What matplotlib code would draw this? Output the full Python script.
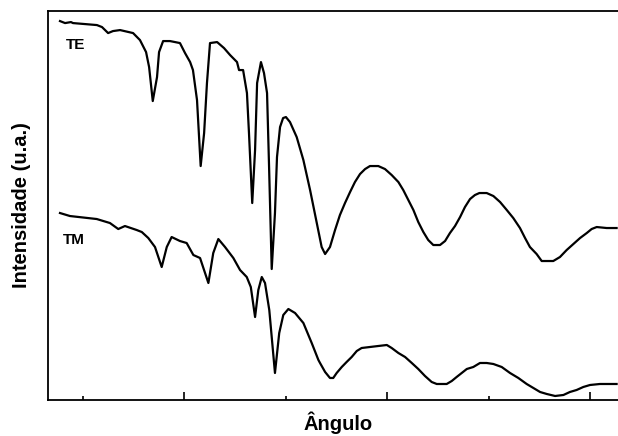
import matplotlib
matplotlib.use('Agg')
import matplotlib.pyplot as plt
from matplotlib.ticker import MultipleLocator, NullFormatter

# curva TE (ângulo, intensidade em u.a.)
te_ang = [33.89, 34.14, 34.43, 34.53, 35.71, 35.96, 36.26, 36.50, 36.85, 37.49,
          37.83, 38.13, 38.28, 38.46, 38.67, 38.77, 38.97, 39.31, 39.80, 40.05,
          40.30, 40.44, 40.64, 40.82, 40.99, 41.13, 41.28, 41.63, 41.97, 42.27,
          42.61, 42.71, 42.91, 43.10, 43.20, 43.36, 43.50, 43.60, 43.79, 43.94,
          44.09, 44.19, 44.32, 44.48, 44.58, 44.73, 44.88, 45.02, 45.22, 45.55,
          45.88, 46.21, 46.54, 46.78,
          46.95, 47.19, 47.44, 47.68, 47.93, 48.18, 48.42, 48.67, 48.92, 49.16,
          49.57, 49.90, 50.23, 50.56, 50.80, 51.05, 51.30, 51.54, 51.79, 52.03,
          52.28, 52.61, 52.86, 53.10, 53.35, 53.60, 53.84, 54.09, 54.33, 54.55,
          54.91, 55.24, 55.57, 55.90, 56.22, 56.55, 56.80, 57.04, 57.37, 57.62,
          58.19, 58.52, 58.85, 59.18, 59.51, 59.84, 60.08, 60.33, 60.82, 61.31]
te_int = [3.79, 3.77, 3.78, 3.77, 3.75, 3.73, 3.67, 3.69, 3.70, 3.67,
          3.60, 3.48, 3.33, 2.99, 3.23, 3.48, 3.59, 3.59, 3.57, 3.47,
          3.38, 3.30, 3.00, 2.34, 2.67, 3.17, 3.57, 3.58, 3.52, 3.45,
          3.38, 3.30, 3.30, 3.07, 2.67, 1.97, 2.50, 3.17, 3.38, 3.27,
          3.07, 2.33, 1.31, 1.87, 2.43, 2.73, 2.82, 2.83, 2.78, 2.63,
          2.40, 2.10, 1.77, 1.53,
          1.46, 1.53, 1.70, 1.85, 1.97, 2.08, 2.18, 2.26, 2.31, 2.34,
          2.34, 2.31, 2.25, 2.18, 2.10, 2.00, 1.90, 1.78, 1.68, 1.60,
          1.55, 1.55, 1.59, 1.67, 1.74, 1.83, 1.93, 2.01, 2.05, 2.07,
          2.07, 2.04, 1.98, 1.90, 1.82, 1.72, 1.62, 1.53, 1.46, 1.39,
          1.39, 1.43, 1.50, 1.56, 1.62, 1.67, 1.71, 1.73, 1.72, 1.72]

# curva TM
tm_ang = [33.89, 34.38, 35.70, 36.35, 36.76, 37.09, 37.67, 37.92, 38.24, 38.57,
          38.90, 39.15, 39.39, 39.80, 40.13, 40.46, 40.79, 41.20, 41.44, 41.69,
          42.02, 42.43, 42.76, 43.09, 43.29, 43.50, 43.66, 43.83, 43.99, 44.20,
          44.48, 44.69, 44.89, 45.14, 45.47, 45.88, 46.29, 46.62,
          46.70, 46.95, 47.19, 47.35, 47.52, 47.77, 48.01, 48.26, 48.51, 48.75,
          49.16, 49.57, 49.99, 50.23, 50.56, 50.89, 51.22, 51.54, 51.87, 52.20,
          52.45, 52.94, 53.19, 53.43, 53.68, 53.93, 54.25, 54.58, 54.91, 55.24,
          55.65, 56.06, 56.47, 56.88, 57.21, 57.54, 57.87, 58.28, 58.69, 59.01,
          59.34, 59.67, 60.00, 60.49, 61.31]
tm_int = [1.87, 1.84, 1.81, 1.77, 1.71, 1.74, 1.70, 1.68, 1.62, 1.53,
          1.33, 1.53, 1.63, 1.59, 1.57, 1.45, 1.42, 1.17, 1.47, 1.61,
          1.53, 1.42, 1.30, 1.23, 1.13, 0.83, 1.10, 1.23, 1.17, 0.90,
          0.27, 0.67, 0.85, 0.91, 0.87, 0.77, 0.57, 0.40,
          0.37, 0.28, 0.22, 0.22, 0.27, 0.33, 0.38, 0.43, 0.49, 0.52,
          0.53, 0.54, 0.55, 0.52, 0.47, 0.43, 0.37, 0.31, 0.24, 0.18,
          0.16, 0.16, 0.19, 0.23, 0.27, 0.31, 0.33, 0.37, 0.37, 0.36,
          0.33, 0.27, 0.22, 0.16, 0.12, 0.08, 0.06, 0.04, 0.05, 0.08,
          0.10, 0.13, 0.15, 0.16, 0.16]

plt.rcParams['font.family'] = ['Liberation Sans', 'DejaVu Sans']

fig = plt.figure(figsize=(6.18, 4.36), dpi=100)
# o eixo passa um pouco da borda direita, como no original
ax = fig.add_axes([0.0777, 0.0826, 0.9427, 0.892])

ax.plot(te_ang, te_int, color='black', lw=1.6, solid_joinstyle='round')
ax.plot(tm_ang, tm_int, color='black', lw=1.6, solid_joinstyle='round')

ax.text(34.19, 3.51, 'TE', fontsize=11, fontweight='bold')
ax.text(34.04, 1.56, 'TM', fontsize=11, fontweight='bold')

ax.set_xlim(33.3, 62)
ax.set_ylim(0, 3.89)

ax.xaxis.set_major_locator(MultipleLocator(10))
ax.xaxis.set_minor_locator(MultipleLocator(5))
ax.xaxis.set_major_formatter(NullFormatter())
ax.tick_params(axis='x', which='major', direction='in', length=6, width=1.2)
ax.tick_params(axis='x', which='minor', direction='in', length=3, width=1.2)
ax.set_yticks([])

for s in ax.spines.values():
    s.set_linewidth(1.3)

ax.set_xlabel('Ângulo', fontsize=14.5, fontweight='bold')
ax.set_ylabel('Intensidade (u.a.)', fontsize=14.5, fontweight='bold')
ax.xaxis.set_label_coords(0.498, -0.03)
ax.yaxis.set_label_coords(-0.03, 0.5)

fig.savefig('out.png', dpi=100)
